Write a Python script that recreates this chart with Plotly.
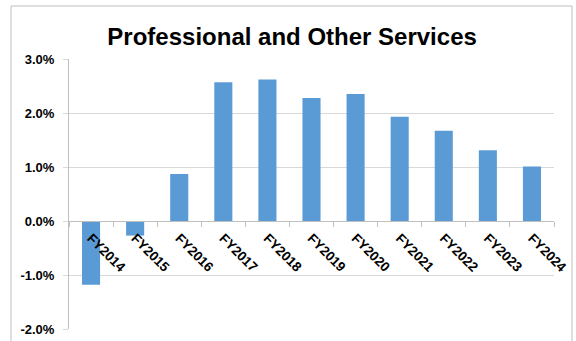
import plotly.graph_objects as go

# Annual growth rates, percent
fiscal_years = ["FY2014", "FY2015", "FY2016", "FY2017", "FY2018", "FY2019",
                "FY2020", "FY2021", "FY2022", "FY2023", "FY2024"]
growth_pct = [-1.18, -0.27, 0.87, 2.57, 2.62, 2.28, 2.35, 1.93, 1.67, 1.31, 1.01]

y_ticks = [-2, -1, 0, 1, 2, 3]
y_tick_labels = ["-2.0%", "-1.0%", "0.0%", "1.0%", "2.0%", "3.0%"]

FONT = "Liberation Sans, Arial, sans-serif"
GRID = "#d9d9d9"
AXIS = "#bfbfbf"

fig = go.Figure(
    go.Bar(
        x=fiscal_years,
        y=growth_pct,
        marker=dict(color="#5b9bd5", line=dict(width=0)),
    )
)

y_min, y_max = -2, 3
zero_frac = (0 - y_min) / (y_max - y_min)

fig.update_layout(
    width=576,
    height=341,
    margin=dict(l=69, r=22, t=59, b=12, autoexpand=False),
    paper_bgcolor="white",
    plot_bgcolor="white",
    bargap=0.59,
    showlegend=False,
    title=dict(
        text="Professional and Other Services",
        font=dict(family=FONT, size=24, color="black", weight="bold"),
        x=0.46,
        xref="paper",
        xanchor="center",
        y=0.894,
        yref="container",
        yanchor="middle",
        automargin=False,
    ),
    xaxis=dict(
        anchor="free",
        position=zero_frac,
        automargin=False,
        showline=True,
        linecolor=AXIS,
        linewidth=1,
        ticks="outside",
        tickson="boundaries",
        ticklen=5,
        tickcolor=AXIS,
        tickangle=45,
        ticklabelstandoff=3,
        tickfont=dict(family=FONT, size=13.5, color="black", weight="bold"),
        showgrid=False,
    ),
    yaxis=dict(
        range=[y_min, y_max],
        automargin=False,
        tickvals=y_ticks,
        ticktext=y_tick_labels,
        showline=True,
        linecolor=AXIS,
        linewidth=1,
        ticks="outside",
        ticklen=5,
        tickcolor=GRID,
        ticklabelstandoff=6,
        showgrid=True,
        gridcolor=GRID,
        gridwidth=1,
        zeroline=False,
        tickfont=dict(family=FONT, size=13, color="black", weight="bold"),
    ),
    shapes=[
        # chart border
        dict(
            type="rect",
            xref="paper",
            yref="paper",
            x0=(11 - 69) / 485,
            x1=(572 - 69) / 485,
            y0=-0.3,
            y1=(329 - 6) / 270,
            line=dict(color=AXIS, width=1),
            fillcolor="rgba(0,0,0,0)",
            layer="below",
        )
    ],
)

fig.write_html("out.html")
